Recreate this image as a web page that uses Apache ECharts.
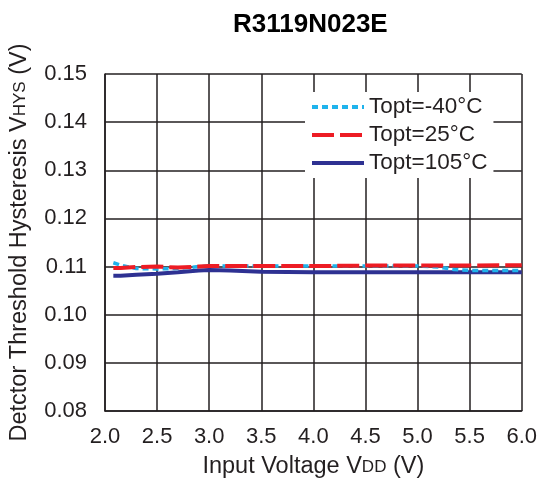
<!DOCTYPE html>
<html><head><meta charset="utf-8">
<script src="https://cdn.jsdelivr.net/npm/echarts@6/dist/echarts.min.js"></script>
<style>html,body{margin:0;padding:0;background:#fff}#c{width:540px;height:485px}</style>
</head><body><div id="c"></div>
<script>
const titleText = 'R3119N023E';
const vdd = [2.08, 2.15, 2.3, 2.5, 2.7, 2.9, 3.0, 3.2, 3.5, 4.0, 4.5, 5.0, 5.2, 5.35, 5.5, 6.0];
const vhysM40 = [0.1108, 0.1103, 0.1096, 0.1095, 0.1096, 0.1100, 0.1101, 0.1101, 0.1101, 0.1101, 0.1101, 0.1101, 0.1099, 0.1094, 0.1092, 0.1092];
const vhys25 = [0.1097, 0.1097, 0.1099, 0.1100, 0.1098, 0.1100, 0.1101, 0.1101, 0.1101, 0.1101, 0.1102, 0.1102, 0.1102, 0.1102, 0.1102, 0.1103];
const vhys105 = [0.1081, 0.1081, 0.1083, 0.1085, 0.1088, 0.1092, 0.1093, 0.1092, 0.1089, 0.1088, 0.1088, 0.1088, 0.1088, 0.1088, 0.1088, 0.1088];
const seriesNames = ['-40', '25', '105'];

const pair = ys => vdd.map((x, i) => [x, ys[i]]);
const FONT = '"Liberation Sans", Arial, sans-serif';
const TXT = '#231f20';
const richName = {
  m: { fontSize: 23.5, lineHeight: 26, fontFamily: FONT, color: TXT },
  s: { fontSize: 17, lineHeight: 26, verticalAlign: 'middle', fontFamily: FONT, color: TXT }
};

const chart = echarts.init(document.getElementById('c'), null, { renderer: 'canvas' });
chart.setOption({
  animation: false,
  title: { text: titleText, left: 228, top: 7, textStyle: { fontSize: 26, fontWeight: 'bold', fontFamily: FONT, color: '#000' } },
  grid: { left: 103, right: 17, top: 74, bottom: 74, show: false },
  legend: {
    data: seriesNames, orient: 'vertical', left: 305, top: 92, padding: [3, 6, 3, 5],
    backgroundColor: '#fff', itemWidth: 52, itemHeight: 14, itemGap: 4,
    itemStyle: { opacity: 0 },
    lineStyle: { width: 4 },
    formatter: n => 'Topt=' + n + '°C',
    textStyle: { fontSize: 22.5, lineHeight: 24, fontFamily: FONT, color: TXT }
  },
  xAxis: {
    type: 'value', min: 2, max: 6, interval: 0.5,
    name: '{m|Input Voltage V}{s|DD}{m| (V)}', nameLocation: 'middle', nameGap: 43,
    nameTextStyle: { rich: richName },
    axisLine: { show: true, onZero: false, lineStyle: { color: TXT, width: 1.5 } },
    axisTick: { show: false },
    axisLabel: { margin: 15, fontSize: 22, fontFamily: FONT, color: TXT, formatter: v => v.toFixed(1) },
    splitLine: { show: true, lineStyle: { color: TXT, width: 1.5 } }
  },
  yAxis: {
    type: 'value', min: 0.08, max: 0.15, interval: 0.01,
    name: '{m|Detctor Threshold Hysteresis V}{s|HYS}{m| (V)}', nameLocation: 'middle', nameGap: 72, nameRotate: 90,
    nameTextStyle: { rich: richName },
    axisLine: { show: true, onZero: false, lineStyle: { color: TXT, width: 1.5 } },
    axisTick: { show: false },
    axisLabel: { margin: 18, fontSize: 22, fontFamily: FONT, color: TXT, formatter: v => v.toFixed(2) },
    splitLine: { show: true, lineStyle: { color: TXT, width: 1.5 } }
  },
  series: [
    { name: '105', type: 'line', data: pair(vhys105), symbol: 'none', z: 3,
      lineStyle: { color: '#2e3192', width: 4 }, itemStyle: { color: '#2e3192' } },
    { name: '-40', type: 'line', data: pair(vhysM40), symbol: 'none', z: 4,
      lineStyle: { color: '#1fb3ec', width: 3.5, type: [6, 4] }, itemStyle: { color: '#1fb3ec' } },
    { name: '25', type: 'line', data: pair(vhys25), symbol: 'none', z: 5,
      lineStyle: { color: '#ed1c24', width: 4, type: [22, 6] }, itemStyle: { color: '#ed1c24' } }
  ]
});
</script></body></html>
